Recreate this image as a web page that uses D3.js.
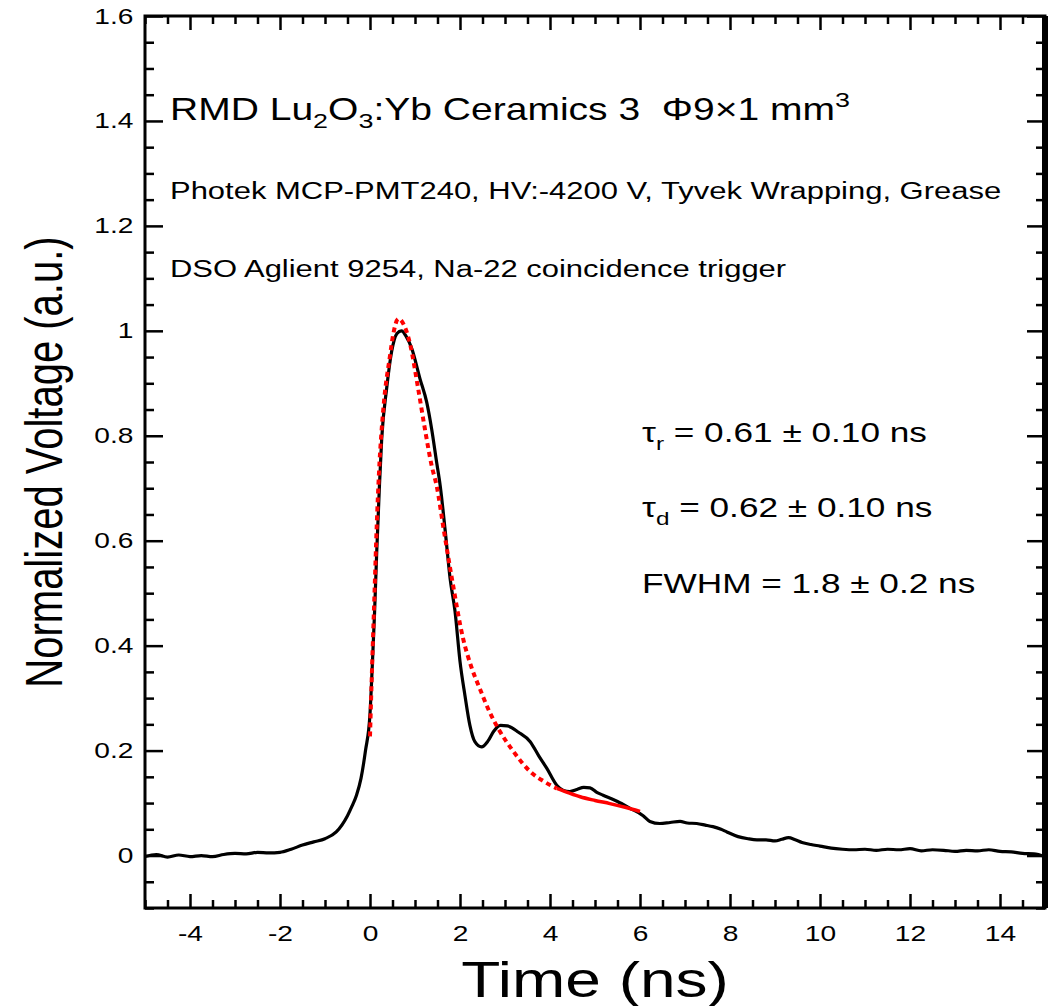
<!DOCTYPE html>
<html>
<head>
<meta charset="utf-8">
<script src="https://cdn.jsdelivr.net/npm/d3@7"></script>
<style>
  body { margin: 0; background: #fff; }
  text { font-family: Arial, "Liberation Sans", sans-serif; fill: #000; }
</style>
</head>
<body>
<div id="chart"></div>
<script>
// measured waveform (time in ns, normalized voltage)
const timeNs = [
  -5, -4.75, -4.5, -4.25, -4, -3.75, -3.5, -3.25, -3, -2.75, -2.5, -2.25, -2, -1.75, -1.5, -1.25,
  -1, -0.75, -0.5, -0.4, -0.3, -0.2, -0.1, 0, 0.05, 0.1, 0.15, 0.21, 0.26, 0.37, 0.48, 0.6, 0.7,
  0.8, 0.93, 1.11, 1.26, 1.37, 1.48, 1.56, 1.67, 1.78, 1.89, 2.0, 2.11, 2.22, 2.33, 2.48, 2.62,
  2.75, 2.9, 3.05, 3.3, 3.56, 3.75, 3.93, 4.15, 4.3, 4.44, 4.6, 4.75, 4.89, 5.05, 5.18, 5.5, 5.78,
  6.07, 6.22, 6.44, 6.67, 6.89, 7.05, 7.26, 7.45, 7.62, 7.8, 7.93, 8.18, 8.4, 8.6, 8.8, 9.0, 9.15,
  9.3, 9.45, 9.6, 9.8, 10, 10.25, 10.5, 10.75, 11, 11.25, 11.5, 11.75, 12, 12.25, 12.5, 12.75, 13,
  13.25, 13.5, 13.75, 14, 14.25, 14.5, 14.75, 15
];
const voltage = [
  -0.002, 0.002, -0.003, 0.001, -0.002, 0.0, -0.002, 0.002, 0.004, 0.003, 0.006, 0.005, 0.006, 0.012, 0.02, 0.026,
  0.032, 0.045, 0.076, 0.094, 0.115, 0.147, 0.2, 0.27, 0.36, 0.46, 0.58, 0.705, 0.794, 0.89, 0.96, 0.995, 1.0,
  0.99, 0.966, 0.909, 0.864, 0.813, 0.75, 0.705, 0.62, 0.528, 0.465, 0.37, 0.305, 0.248, 0.217, 0.207, 0.218,
  0.237, 0.248, 0.247, 0.235, 0.217, 0.19, 0.166, 0.134, 0.124, 0.122, 0.126, 0.13, 0.129, 0.12, 0.115, 0.103, 0.09,
  0.076, 0.065, 0.061, 0.063, 0.065, 0.062, 0.061, 0.058, 0.055, 0.05, 0.045, 0.036, 0.032, 0.03, 0.03, 0.028, 0.031,
  0.034, 0.03, 0.025, 0.021, 0.018, 0.014, 0.012, 0.011, 0.012, 0.01, 0.012, 0.011, 0.013, 0.009, 0.011, 0.01, 0.008,
  0.01, 0.009, 0.011, 0.008, 0.007, 0.004, 0.003, -0.002
];

// fitted curve (red)
const fitTime = [
  0, 0.05, 0.1, 0.15, 0.2, 0.3, 0.44, 0.52, 0.63, 0.75, 0.89, 1.07, 1.22, 1.37, 1.48, 1.65, 1.82,
  2.07, 2.25, 2.44, 2.65, 2.85, 3.19, 3.56, 3.85, 4.15, 4.4, 4.67, 5.0, 5.33, 5.67, 6.0
];
const fitVoltage = [
  0.227, 0.37, 0.5, 0.63, 0.73, 0.855, 0.95, 0.995, 1.023, 1.012, 0.975, 0.89, 0.813, 0.743, 0.705, 0.615, 0.528,
  0.413, 0.36, 0.318, 0.275, 0.242, 0.198, 0.16, 0.142, 0.128, 0.12, 0.112, 0.105, 0.099, 0.092, 0.084
];

const xTickValues = [-4, -2, 0, 2, 4, 6, 8, 10, 12, 14];
const xTickLabels = ["-4", "-2", "0", "2", "4", "6", "8", "10", "12", "14"];
const yTickValues = [0, 0.2, 0.4, 0.6, 0.8, 1, 1.2, 1.4, 1.6];
const yTickLabels = ["0", "0.2", "0.4", "0.6", "0.8", "1", "1.2", "1.4", "1.6"];

const fitSplit = 4.3; // red fit drawn dotted before this, solid after

// the reference picture is stretched sideways; text is widened to match
const SX = 1.28;

const W = 1054, H = 1006;
const margin = { top: 16, right: 9, bottom: 98, left: 145 };
const innerW = W - margin.left - margin.right;
const innerH = H - margin.top - margin.bottom;

const svg = d3.select('#chart').append('svg')
  .attr('width', W)
  .attr('height', H);

const g = svg.append('g').attr('transform', `translate(${margin.left},${margin.top})`);

const x = d3.scaleLinear().domain([-5, 15]).range([0, innerW]);
const y = d3.scaleLinear().domain([-0.1, 1.6]).range([innerH, 0]);

const xMinor = d3.range(-5, 15.001, 0.5).filter(v => !xTickValues.some(t => Math.abs(t - v) < 1e-6));
const yMinor = d3.range(-0.1, 1.6001, 0.05).map(v => +v.toFixed(2)).filter(v => !yTickValues.some(t => Math.abs(t - v) < 1e-6));

// axes: all ticks point inward
const axisStyle = sel => {
  sel.select('.domain').remove();
  sel.selectAll('.tick line').attr('stroke', '#000').attr('stroke-width', 2.5);
  sel.selectAll('.tick text')
    .style('font-size', '22px')
    .attr('fill', '#000')
    .attr('transform', `scale(${SX},1)`);
};

g.append('g').attr('transform', `translate(0,${innerH})`)
  .call(d3.axisBottom(x).tickValues(xTickValues).tickSize(-14).tickPadding(17)
    .tickFormat((d, i) => xTickLabels[i]))
  .call(axisStyle);
g.append('g').attr('transform', `translate(0,${innerH})`)
  .call(d3.axisBottom(x).tickValues(xMinor).tickSize(-8).tickFormat(''))
  .call(axisStyle);
g.append('g')
  .call(d3.axisTop(x).tickValues(xTickValues).tickSize(-14).tickFormat(''))
  .call(axisStyle);
g.append('g')
  .call(d3.axisTop(x).tickValues(xMinor).tickSize(-8).tickFormat(''))
  .call(axisStyle);

g.append('g')
  .call(d3.axisLeft(y).tickValues(yTickValues).tickSize(-18).tickPadding(9)
    .tickFormat((d, i) => yTickLabels[i]))
  .call(axisStyle);
g.append('g')
  .call(d3.axisLeft(y).tickValues(yMinor).tickSize(-9).tickFormat(''))
  .call(axisStyle);
g.append('g').attr('transform', `translate(${innerW},0)`)
  .call(d3.axisRight(y).tickValues(yTickValues).tickSize(-18).tickFormat(''))
  .call(axisStyle);
g.append('g').attr('transform', `translate(${innerW},0)`)
  .call(d3.axisRight(y).tickValues(yMinor).tickSize(-9).tickFormat(''))
  .call(axisStyle);

// frame
g.append('rect')
  .attr('width', innerW).attr('height', innerH)
  .attr('fill', 'none').attr('stroke', '#000').attr('stroke-width', 3);
g.append('line')
  .attr('x1', innerW).attr('x2', innerW).attr('y1', 0).attr('y2', innerH)
  .attr('stroke', '#000').attr('stroke-width', 6);

// data
const wave = timeNs.map((t, i) => ({ t, v: voltage[i] }));
const fit = fitTime.map((t, i) => ({ t, v: fitVoltage[i] }));

const line = d3.line().x(d => x(d.t)).y(d => y(d.v)).curve(d3.curveMonotoneX);

g.append('path')
  .datum(wave)
  .attr('d', line)
  .attr('fill', 'none')
  .attr('stroke', '#000')
  .attr('stroke-width', 3.2)
  .attr('stroke-linejoin', 'round');

g.append('path')
  .datum(fit.filter(d => d.t <= fitSplit + 1e-6))
  .attr('d', line)
  .attr('fill', 'none')
  .attr('stroke', '#ff0000')
  .attr('stroke-width', 4)
  .attr('stroke-dasharray', '5,4');

g.append('path')
  .datum(fit.filter(d => d.t >= 4.15))
  .attr('d', line)
  .attr('fill', 'none')
  .attr('stroke', '#ff0000')
  .attr('stroke-width', 3.5);

// annotations (each placed at its own anchor then widened)
const wideText = (px, py, size) => svg.append('g')
  .attr('transform', `translate(${px},${py}) scale(${SX},1)`)
  .append('text').style('font-size', size + 'px');

const title = wideText(170, 120, 30.5);
title.append('tspan').text('RMD Lu');
title.append('tspan').attr('dy', 8).style('font-size', '21px').text('2');
title.append('tspan').attr('dy', -8).text('O');
title.append('tspan').attr('dy', 8).style('font-size', '21px').text('3');
title.append('tspan').attr('dy', -8).text(':Yb Ceramics 3\u00a0\u00a0\u03a69\u00d71 mm');
title.append('tspan').attr('dy', -13).style('font-size', '21px').text('3');

wideText(170, 199, 24.2).text('Photek MCP-PMT240, HV:-4200 V, Tyvek Wrapping, Grease');
wideText(170, 277, 24.2).text('DSO Aglient 9254, Na-22 coincidence trigger');

const fitLabels = [
  { sym: '\u03c4', sub: 'r', rest: ' = 0.61 \u00b1 0.10 ns', yPos: 442 },
  { sym: '\u03c4', sub: 'd', rest: ' = 0.62 \u00b1 0.10 ns', yPos: 517 },
  { sym: 'FWHM', sub: '', rest: ' = 1.8 \u00b1 0.2 ns', yPos: 593 },
];
fitLabels.forEach(l => {
  const t = wideText(642, l.yPos, 27.5);
  t.append('tspan').text(l.sym);
  if (l.sub) {
    t.append('tspan').attr('dy', 8).style('font-size', '19px').text(l.sub);
    t.append('tspan').attr('dy', -8).text(l.rest);
  } else {
    t.append('tspan').text(l.rest);
  }
});

// axis titles
svg.append('text')
  .attr('transform', `translate(62,${margin.top + innerH / 2}) rotate(-90) scale(1,${SX})`)
  .attr('text-anchor', 'middle')
  .style('font-size', '40px')
  .text('Normalized Voltage (a.u.)');

svg.append('g')
  .attr('transform', `translate(${margin.left + innerW / 2},997) scale(${SX},1)`)
  .append('text')
  .attr('text-anchor', 'middle')
  .style('font-size', '50px')
  .text('Time (ns)');
</script>
</body>
</html>
